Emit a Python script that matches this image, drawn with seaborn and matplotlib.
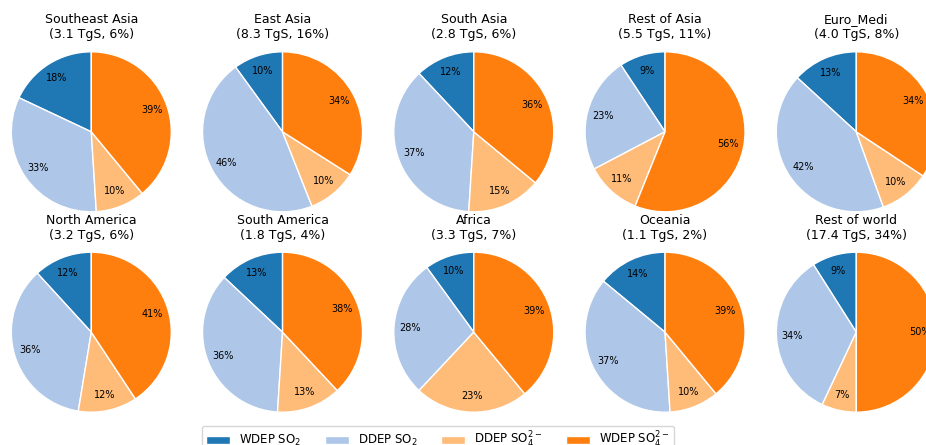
import matplotlib
matplotlib.use('Agg')
import matplotlib.pyplot as plt
import seaborn as sns

# regions, total deposition (TgS) and share of global total
regions = ['Southeast Asia', 'East Asia', 'South Asia', 'Rest of Asia', 'Euro_Medi',
           'North America', 'South America', 'Africa', 'Oceania', 'Rest of world']
totals = [3.1, 8.3, 2.8, 5.5, 4.0, 3.2, 1.8, 3.3, 1.1, 17.4]
shares = [6, 16, 6, 11, 8, 6, 4, 7, 2, 34]

# percentage of each deposition type per region
wdep_so2 = [18, 10, 12, 9.3, 13.2, 11.8, 13, 10, 14, 9]
ddep_so2 = [33, 46, 37, 23.4, 42.3, 35.6, 36, 28, 37, 34]
ddep_so4 = [10, 10, 15, 11.2, 10.2, 11.9, 13, 23, 10, 7]
wdep_so4 = [39, 34, 36, 56.1, 34.3, 40.7, 38, 39, 39, 50]

labels = ['WDEP SO$_2$', 'DDEP SO$_2$', 'DDEP SO$_4^{2-}$', 'WDEP SO$_4^{2-}$']

pal = sns.color_palette('tab20')
colors = [pal[0], pal[1], pal[3], pal[2]]

W, H = 926, 445
fig = plt.figure(figsize=(W / 100, H / 100), dpi=100)

cx0, dx = 91.3, 191.25
cys = [131.8, 332.2]
size = 200  # axes size in px, pie radius = size / 2.5

wedges = None
for i, reg in enumerate(regions):
    row, col = divmod(i, 5)
    cx = cx0 + dx * col
    cy = cys[row]
    ax = fig.add_axes([(cx - size / 2) / W, 1 - (cy + size / 2) / H, size / W, size / H])
    vals = [wdep_so2[i], ddep_so2[i], ddep_so4[i], wdep_so4[i]]
    wedges, texts, autotexts = ax.pie(vals, colors=colors, startangle=90, counterclock=True,
                                      autopct='%.0f%%', pctdistance=0.8,
                                      wedgeprops={'edgecolor': 'white', 'linewidth': 1},
                                      textprops={'fontsize': 7})
    ax.set_title('%s\n(%.1f TgS, %d%%)' % (reg, totals[i], shares[i]),
                 fontsize=9, y=0.968, pad=0)

fig.legend(wedges, labels, loc='upper center', bbox_to_anchor=(438 / W, 1 - 425.5 / H),
           ncol=4, fontsize=8.5, borderaxespad=0)

plt.savefig('out.png', dpi=100)
